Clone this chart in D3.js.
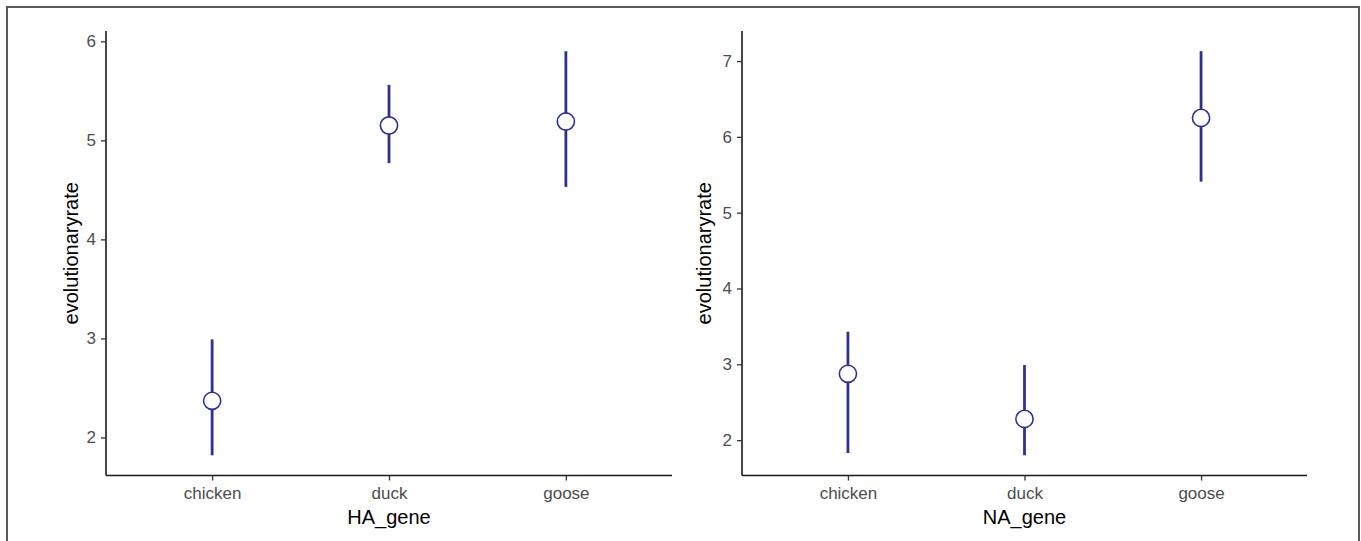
<!DOCTYPE html>
<html>
<head>
<meta charset="utf-8">
<script src="https://cdn.jsdelivr.net/npm/d3@7"></script>
<style>
  html, body { margin: 0; padding: 0; background: #fff; }
  svg { display: block; }
</style>
</head>
<body>
<svg id="chart" width="1361" height="541"></svg>
<script>
// ---- Data ----
const categories = ["chicken", "duck", "goose"];

const haMean  = [2.37, 5.15, 5.19];
const haLower = [1.82, 4.77, 4.53];
const haUpper = [2.99, 5.56, 5.90];
const haTicks = [2, 3, 4, 5, 6];

const naMean  = [2.875, 2.28, 6.25];
const naLower = [1.83, 1.80, 5.41];
const naUpper = [3.43, 2.99, 7.13];
const naTicks = [2, 3, 4, 5, 6, 7];

const yTitle = "evolutionaryrate";
const panelTitles = ["HA_gene", "NA_gene"];

// ---- Layout ----
(function () {
const svg = d3.select("#chart");
const FONT = "'Liberation Sans', Arial, sans-serif";
const lineColor = "#2e3192";

// outer border (no bottom edge visible)
svg.append("path")
  .attr("d", "M7,541 L7,7 L1359,7 L1359,541")
  .attr("fill", "none")
  .attr("stroke", "#5a5a5a")
  .attr("stroke-width", 2);

const panels = [
  { x0: 106, x1: 672, mean: haMean, lo: haLower, hi: haUpper, ticks: haTicks, title: panelTitles[0], yTitleX: 71 },
  { x0: 742, x1: 1307, mean: naMean, lo: naLower, hi: naUpper, ticks: naTicks, title: panelTitles[1], yTitleX: 704 }
];
const plotTop = 31, plotBottom = 475.5;

panels.forEach(p => {
  const g = svg.append("g");
  const minV = d3.min(p.lo), maxV = d3.max(p.hi);
  const pad = (maxV - minV) * 0.05;
  const y = d3.scaleLinear().domain([minV - pad, maxV + pad]).range([plotBottom, plotTop]);
  const x = d3.scalePoint().domain(categories).range([p.x0, p.x1]).padding(0.6);

  // axes
  const yAxis = g.append("g").attr("transform", `translate(${p.x0},0)`)
    .call(d3.axisLeft(y).tickValues(p.ticks).tickSize(5).tickPadding(5).tickFormat(d3.format("d")));
  const xAxis = g.append("g").attr("transform", `translate(0,${plotBottom})`)
    .call(d3.axisBottom(x).tickSize(5).tickPadding(6));
  [yAxis, xAxis].forEach(a => {
    a.select(".domain").attr("stroke", "#1a1a1a").attr("stroke-width", 1.6);
    a.selectAll(".tick line").attr("stroke", "#333").attr("stroke-width", 1.3);
    a.selectAll(".tick text").attr("fill", "#4d4d4d").style("font-family", FONT).style("font-size", "17px");
  });
  yAxis.select(".domain").attr("d", `M0,${plotBottom}V${plotTop}`);
  xAxis.select(".domain").attr("d", `M${p.x0},0H${p.x1}`);

  // titles
  g.append("text")
    .attr("x", (p.x0 + p.x1) / 2).attr("y", 524)
    .attr("text-anchor", "middle")
    .style("font-family", FONT).style("font-size", "20px").attr("fill", "#000")
    .text(p.title);
  g.append("text")
    .attr("transform", `translate(${p.yTitleX},${(plotTop + plotBottom) / 2}) rotate(-90)`)
    .attr("text-anchor", "middle").attr("dy", "0.35em")
    .style("font-family", FONT).style("font-size", "20px").attr("fill", "#000")
    .text(yTitle);

  // error bars
  categories.forEach((c, i) => {
    g.append("line")
      .attr("x1", x(c)).attr("x2", x(c))
      .attr("y1", y(p.lo[i])).attr("y2", y(p.hi[i]))
      .attr("stroke", lineColor).attr("stroke-width", 2.8);
  });
  categories.forEach((c, i) => {
    g.append("circle")
      .attr("cx", x(c)).attr("cy", y(p.mean[i])).attr("r", 8.6)
      .attr("fill", "#fff").attr("stroke", lineColor).attr("stroke-width", 1.6);
  });
});
})();
</script>
</body>
</html>
